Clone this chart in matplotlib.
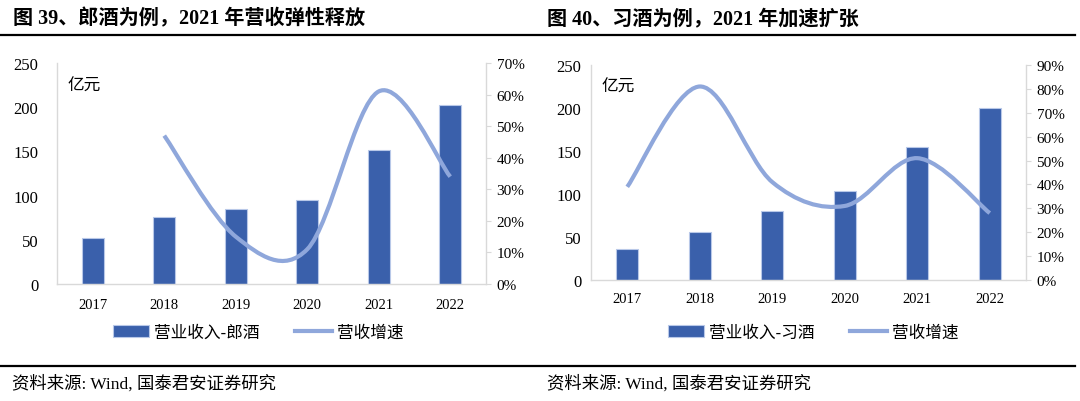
import matplotlib
matplotlib.use("Agg")
import matplotlib.pyplot as plt
from matplotlib.path import Path
from matplotlib.patches import PathPatch
from matplotlib.lines import Line2D
from matplotlib.patches import Patch
from matplotlib.ticker import FuncFormatter

# data
years = ["2017", "2018", "2019", "2020", "2021", "2022"]

lang_revenue = [52, 76, 85, 95, 152, 202]
lang_growth_years = [1, 2, 3, 4, 5]          # 2018..2022 (no 2017 growth)
lang_growth = [47, 15, 11, 61, 34]

xi_revenue = [36, 56, 80, 103, 155, 200]
xi_growth_years = [0, 1, 2, 3, 4, 5]
xi_growth = [39, 81, 41, 31, 51, 28]

BAR_C = "#3A60AB"
LINE_C = "#8FA7DB"
SPINE_C = "#D9D9D9"
SERIF_CJK = ["Liberation Serif", "Noto Sans CJK SC"]
CJK = ["Noto Sans CJK SC", "DejaVu Sans"]


def smooth_path(xs, ys):
    # excel-style smoothed line: cubic bezier through the points
    n = len(xs)
    verts = [(xs[0], ys[0])]
    codes = [Path.MOVETO]
    for i in range(n - 1):
        x0, y0 = xs[i], ys[i]
        x1, y1 = xs[i + 1], ys[i + 1]
        xp, yp = (xs[i - 1], ys[i - 1]) if i > 0 else (x0, y0)
        xn, yn = (xs[i + 2], ys[i + 2]) if i + 2 < n else (x1, y1)
        verts.append((x0 + (x1 - xp) / 6, y0 + (y1 - yp) / 6))
        verts.append((x1 - (xn - x0) / 6, y1 - (yn - y0) / 6))
        verts.append((x1, y1))
        codes += [Path.CURVE4] * 3
    return Path(verts, codes)


def draw_panel(rect, revenue, gx, growth, gmax, ylab_pad, xlab_pad):
    ax = fig.add_axes(rect)
    x = range(len(years))
    ax.bar(x, revenue, width=0.31, color=BAR_C, edgecolor="#B8C8E8", linewidth=0.8, zorder=2)
    ax.set_xlim(-0.5, len(years) - 0.5)
    ax.set_ylim(0, 250)
    ax.set_yticks(range(0, 251, 50))
    ax.set_xticks(list(x))
    ax.set_xticklabels(years, family="Liberation Serif", fontsize=10.5)
    for t in ax.get_yticklabels():
        t.set_family("Liberation Serif")
        t.set_fontsize(12)
    ax.tick_params(axis="x", length=0, pad=xlab_pad)
    ax.tick_params(axis="y", length=0, pad=ylab_pad)
    for s in ["top", "right"]:
        ax.spines[s].set_visible(False)
    for s in ["left", "bottom"]:
        ax.spines[s].set_color(SPINE_C)
        ax.spines[s].set_linewidth(1.0)
    ax.text(0.025, 0.9, "亿元", transform=ax.transAxes, family=CJK, fontsize=12, va="center")

    ax2 = ax.twinx()
    ax2.set_ylim(0, gmax)
    ax2.set_yticks(range(0, gmax + 1, 10))
    ax2.yaxis.set_major_formatter(FuncFormatter(lambda v, p: f"{int(v)}%"))
    for t in ax2.get_yticklabels():
        t.set_family("Liberation Serif")
        t.set_fontsize(11)
    ax2.tick_params(axis="y", length=3.6, color=SPINE_C, pad=4)
    for s in ["top", "left", "bottom"]:
        ax2.spines[s].set_visible(False)
    ax2.spines["right"].set_color(SPINE_C)
    ax2.spines["right"].set_linewidth(1.0)
    patch = PathPatch(smooth_path(gx, growth), facecolor="none", edgecolor=LINE_C,
                      linewidth=3.0, capstyle="butt", zorder=3)
    ax2.add_patch(patch)
    return ax, ax2


fig = plt.figure(figsize=(10.8, 4.02), dpi=100)

# titles
fig.text(13 / 1080, 1 - 19 / 402, "图 39、郎酒为例，2021 年营收弹性释放", family=SERIF_CJK,
         fontsize=14.5, fontweight="bold", va="center")
fig.text(547 / 1080, 1 - 19 / 402, "图 40、习酒为例，2021 年加速扩张", family=SERIF_CJK,
         fontsize=14.5, fontweight="bold", va="center")

# separator lines
fig.add_artist(Line2D([0, 1075 / 1080], [1 - 36 / 402] * 2, color="black", linewidth=1.6))
fig.add_artist(Line2D([0, 1075 / 1080], [1 - 367 / 402] * 2, color="black", linewidth=1.6))

axL, axL2 = draw_panel([57 / 1080, 1 - 285 / 402, 429 / 1080, 221 / 402],
                       lang_revenue, lang_growth_years, lang_growth, 70, 13.5, 10)
axR, axR2 = draw_panel([591 / 1080, 1 - 281 / 402, 435 / 1080, 215 / 402],
                       xi_revenue, xi_growth_years, xi_growth, 90, 7, 9)

# legends
for ax, name, cx in [(axL, "营业收入-郎酒", 258), (axR, "营业收入-习酒", 813)]:
    handles = [Patch(facecolor=BAR_C, edgecolor="#B8C8E8", linewidth=0.8),
               Line2D([], [], color=LINE_C, linewidth=3.0)]
    fig.legend(handles, [name, "营收增速"], loc="center", bbox_to_anchor=(cx / 1080, 1 - 333 / 402),
               ncol=2, frameon=False, prop={"family": CJK, "size": 12},
               handlelength=2.2, handletextpad=0.3, columnspacing=2.1)

# source notes
fig.text(12 / 1080, 1 - 384 / 402, "资料来源: Wind, 国泰君安证券研究", family=SERIF_CJK,
         fontsize=12.5, va="center")
fig.text(547 / 1080, 1 - 384 / 402, "资料来源: Wind, 国泰君安证券研究", family=SERIF_CJK,
         fontsize=12.5, va="center")

fig.savefig("out.png", dpi=100)
